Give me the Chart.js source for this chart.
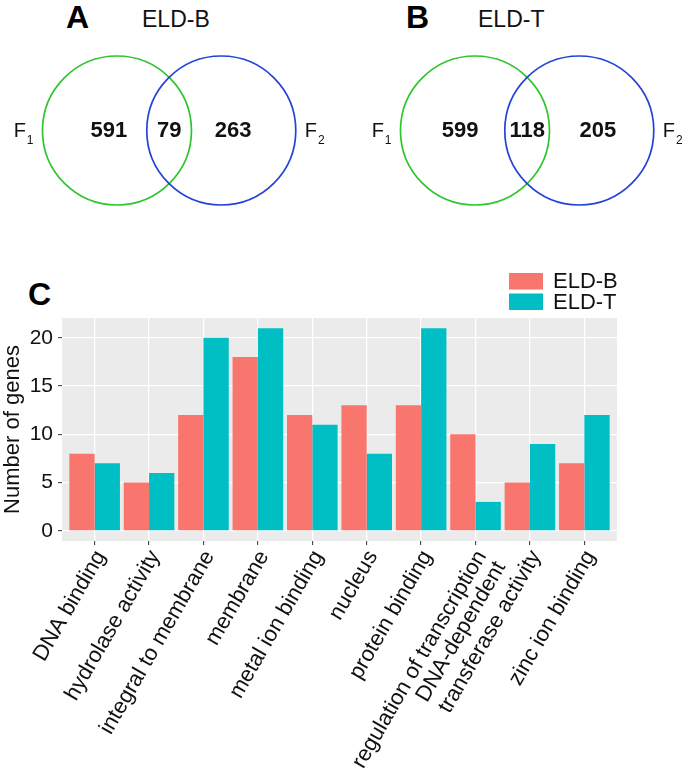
<!DOCTYPE html>
<html>
<head>
<meta charset="utf-8">
<script src="https://cdn.jsdelivr.net/npm/chart.js@4.4.1/dist/chart.umd.min.js"></script>
<style>
    html, body { margin: 0; padding: 0; background: #ffffff; }
    body {
        width: 685px; height: 772px; position: relative; overflow: hidden;
        font-family: "Liberation Sans", Arial, sans-serif;
    }
    .wrap { position: absolute; }
    .tag { position: absolute; font-weight: bold; font-size: 32px; line-height: 1; color: #000; }
    .vtitle { position: absolute; font-size: 23px; line-height: 1; color: #111; }
</style>
</head>
<body>

<div class="tag" style="left:66px;top:1px">A</div>
<div class="vtitle" id="titleA" style="left:142px;top:8px"></div>
<div class="tag" style="left:406px;top:1px">B</div>
<div class="vtitle" id="titleB" style="left:478px;top:8px"></div>
<div class="tag" style="left:28px;top:278px">C</div>

<div class="wrap" style="left:0;top:40px;width:327px;height:181px"><canvas id="vennA"></canvas></div>
<div class="wrap" style="left:358px;top:40px;width:327px;height:181px"><canvas id="vennB"></canvas></div>
<div class="wrap" style="left:0;top:260px;width:685px;height:512px"><canvas id="goChart"></canvas></div>

<script>
/* =====================================
   DATA
===================================== */

const vennTitles = ["ELD-B", "ELD-T"];
const setNames = ["F1", "F2"];
const vennCountsA = [591, 79, 263];   // F1 only, both, F2 only
const vennCountsB = [599, 118, 205];

const categories = [
    "DNA binding",
    "hydrolase activity",
    "integral to membrane",
    "membrane",
    "metal ion binding",
    "nucleus",
    "protein binding",
    ["regulation of transcription", "DNA-dependent"],
    "transferase activity",
    "zinc ion binding"
];
const seriesNames = ["ELD-B", "ELD-T"];
const eldB = [8, 5, 12, 18, 12, 13, 13, 10, 5, 7];
const eldT = [7, 6, 20, 21, 11, 8, 21, 3, 9, 12];
const yTicks = [0, 5, 10, 15, 20];

/* layout of the venn pictures (unit = circle radius) */
const circleX = [0, 1.4];
const circleColors = ["#2ec52e", "#2443d6"];
const countXA = [-0.11, 0.70, 1.56];
const countXB = [-0.20, 0.70, 1.65];

Chart.defaults.font.family = '"Liberation Sans", Arial, sans-serif';
Chart.defaults.color = "#111111";

document.getElementById("titleA").textContent = vennTitles[0];
document.getElementById("titleB").textContent = vennTitles[1];


/* =====================================
   VENN (scatter chart, circles sized in axis units)
===================================== */

function unitPx(chart) {
    const x = chart.scales.x;
    return x.getPixelForValue(1) - x.getPixelForValue(0);
}

const vennLabels = {
    id: "vennLabels",
    afterDatasetsDraw(chart, args, opts) {
        const ctx = chart.ctx;
        const circles = chart.getDatasetMeta(0).data;
        const counts = chart.getDatasetMeta(1).data;
        const r = unitPx(chart);

        ctx.save();
        ctx.fillStyle = "#111";
        ctx.textBaseline = "middle";
        ctx.textAlign = "center";
        ctx.font = 'bold 22px "Liberation Sans", Arial, sans-serif';
        counts.forEach((pt, i) => {
            ctx.fillText(String(opts.counts[i]), pt.x, pt.y);
        });

        // set names with subscript
        setNames.forEach((name, i) => {
            const c = circles[i];
            const gap = 0.12 * r;
            const main = name.slice(0, -1);
            const sub = name.slice(-1);
            ctx.font = '20px "Liberation Sans", Arial, sans-serif';
            const wMain = ctx.measureText(main).width;
            ctx.font = '12px "Liberation Sans", Arial, sans-serif';
            const wSub = ctx.measureText(sub).width + 1;
            let x0 = i === 0 ? c.x - r - gap - wMain - wSub : c.x + r + gap;
            ctx.textAlign = "left";
            ctx.textBaseline = "alphabetic";
            ctx.font = '20px "Liberation Sans", Arial, sans-serif';
            ctx.fillText(main, x0, c.y + 6);
            ctx.font = '12px "Liberation Sans", Arial, sans-serif';
            ctx.fillText(sub, x0 + wMain + 1, c.y + 13);
        });
        ctx.restore();
    }
};

function drawVenn(canvasId, counts, countX) {
    const ctx = document.getElementById(canvasId).getContext("2d");
    return new Chart(ctx, {
        type: "scatter",
        data: {
            datasets: [
                {
                    data: circleX.map(x => ({ x: x, y: 0 })),
                    pointRadius: c => unitPx(c.chart),
                    pointBorderColor: circleColors,
                    pointBackgroundColor: "rgba(0,0,0,0)",
                    pointBorderWidth: 1.7
                },
                {
                    data: countX.map(x => ({ x: x, y: 0 })),
                    pointRadius: 0
                }
            ]
        },
        options: {
            responsive: true,
            maintainAspectRatio: false,
            animation: false,
            events: [],
            layout: { padding: 0 },
            plugins: {
                legend: { display: false },
                tooltip: { enabled: false },
                vennLabels: { counts: counts }
            },
            scales: {
                x: { type: "linear", display: false, min: -1.570, max: 2.819 },
                y: { type: "linear", display: false, min: -1.215, max: 1.215 }
            }
        },
        plugins: [vennLabels]
    });
}

drawVenn("vennA", vennCountsA, countXA);
drawVenn("vennB", vennCountsB, countXB);


/* =====================================
   GO TERM BAR CHART (ggplot look)
===================================== */

const yMinor = yTicks.slice(0, -1).map((v, i) => (v + yTicks[i + 1]) / 2);

const panelBg = {
    id: "panelBg",
    beforeDraw(chart) {
        const a = chart.chartArea;
        const ctx = chart.ctx;
        ctx.save();
        ctx.fillStyle = "#ebebeb";
        ctx.fillRect(a.left, a.top, a.right - a.left, a.bottom - a.top);
        ctx.restore();
    }
};

const stackedLegend = {
    id: "stackedLegend",
    afterDraw(chart) {
        const ctx = chart.ctx;
        const a = chart.chartArea;
        const boxW = 34, boxH = 16.5, pitch = 20.5;
        const x0 = a.right - 108;
        const y0 = a.top - 45;
        ctx.save();
        ctx.font = '22px "Liberation Sans", Arial, sans-serif';
        ctx.textBaseline = "middle";
        ctx.textAlign = "left";
        chart.data.datasets.forEach((ds, i) => {
            const y = y0 + i * pitch;
            ctx.fillStyle = ds.backgroundColor;
            ctx.fillRect(x0, y, boxW, boxH);
            ctx.fillStyle = "#111";
            ctx.fillText(ds.label, x0 + boxW + 10, y + boxH / 2 + 1);
        });
        ctx.restore();
    }
};

const barCtx = document.getElementById("goChart").getContext("2d");

new Chart(barCtx, {
    type: "bar",
    data: {
        datasets: [
            {
                label: seriesNames[0],
                data: eldB.map((v, i) => ({ x: i, y: v })),
                backgroundColor: "#f8766d",
                categoryPercentage: 0.93,
                barPercentage: 1.0
            },
            {
                label: seriesNames[1],
                data: eldT.map((v, i) => ({ x: i, y: v })),
                backgroundColor: "#00bfc4",
                categoryPercentage: 0.93,
                barPercentage: 1.0
            }
        ]
    },
    options: {
        responsive: true,
        maintainAspectRatio: false,
        animation: false,
        events: [],
        layout: { padding: { top: 58, right: 68, left: 0, bottom: 0 } },
        plugins: {
            legend: { display: false },
            tooltip: { enabled: false }
        },
        scales: {
            x: {
                type: "linear",
                min: -0.6,
                max: 9.6,
                offset: false,
                afterBuildTicks: s => { s.ticks = categories.map((c, i) => ({ value: i })); },
                afterFit: s => { s.height = 231; s.paddingLeft = 0; s.paddingRight = 0; },
                border: { display: false },
                grid: {
                    offset: false,
                    color: "#ffffff",
                    lineWidth: 1.3,
                    tickColor: "#333333",
                    tickLength: 4,
                    tickWidth: 1
                },
                ticks: {
                    autoSkip: false,
                    minRotation: 60,
                    maxRotation: 60,
                    padding: 2,
                    labelOffset: 6,
                    color: "#111111",
                    font: { size: 22, lineHeight: 1.0 },
                    callback: v => categories[v]
                }
            },
            y: {
                type: "linear",
                min: -1.05,
                max: 22.05,
                afterBuildTicks: s => {
                    s.ticks = yTicks.concat(yMinor).sort((a, b) => a - b).map(v => ({ value: v }));
                },
                afterFit: s => { s.width = 62; s.paddingTop = 0; s.paddingBottom = 0; },
                border: { display: false },
                grid: {
                    color: "#ffffff",
                    lineWidth: c => yTicks.includes(c.tick.value) ? 1.3 : 0.6,
                    tickColor: c => yTicks.includes(c.tick.value) ? "#333333" : "rgba(0,0,0,0)",
                    tickLength: 4,
                    tickWidth: 1
                },
                ticks: {
                    padding: 5,
                    color: "#111111",
                    font: { size: 21 },
                    callback: v => yTicks.includes(v) ? String(v) : ""
                },
                title: {
                    display: true,
                    text: "Number of genes",
                    color: "#111111",
                    font: { size: 22 },
                    padding: 0
                }
            }
        }
    },
    plugins: [panelBg, stackedLegend]
});
</script>
</body>
</html>
